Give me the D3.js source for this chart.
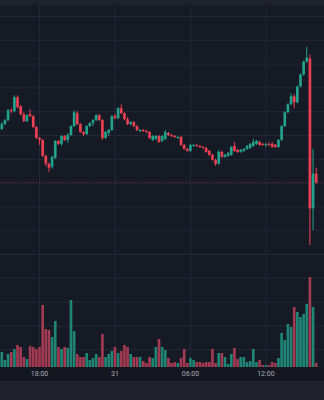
<!DOCTYPE html>
<html>
<head>
<meta charset="utf-8">
<script src="https://cdn.jsdelivr.net/npm/d3@7"></script>
<style>
  html, body { margin: 0; padding: 0; background: #161a25; }
  svg { display: block; }
</style>
</head>
<body>
<svg id="chart"></svg>
<script>
// 15 min candles, 30th 15:00 -> 31st 16:00
const openP = [
  1225, 1227.5, 1229.5, 1234.5, 1234, 1241, 1236.5, 1232.5, 1229, 1232.5,
  1231.5, 1226, 1220.5, 1219.5, 1211.5, 1207.5, 1206, 1210.5, 1219, 1217.5,
  1221.5, 1219.5, 1222, 1226.5, 1233, 1227.5, 1223.5, 1222.5, 1226.5, 1228,
  1229.5, 1232, 1229.5, 1220.5, 1223, 1224.5, 1231.5, 1230.5, 1235.5, 1233,
  1230, 1227.5, 1228.5, 1226.5, 1224, 1224.5, 1224, 1223.5, 1219.5, 1220,
  1221.5, 1219, 1220, 1223, 1222, 1221.5, 1220.5, 1221, 1217, 1215,
  1214, 1216.5, 1217, 1216.5, 1216, 1215.5, 1214, 1212, 1209.5, 1207.5,
  1213.5, 1211, 1211.5, 1212, 1216.5, 1214.5, 1213.5, 1214, 1215, 1215.5,
  1216.5, 1217.5, 1218.5, 1217.5, 1217, 1217.5, 1217.5, 1217, 1216, 1219.5,
  1226.5, 1233.5, 1237.5, 1241.5, 1238.5, 1246.5, 1252.5, 1259, 1260.5, 1185,
  1202.5
];
const highP = [
  1228.5, 1230, 1235, 1235.5, 1242, 1242, 1237, 1233.5, 1232.5, 1235,
  1232, 1226.5, 1221, 1220, 1212, 1208, 1211.5, 1219.5, 1219.5, 1222,
  1222, 1223, 1227, 1234.5, 1234, 1228, 1224, 1227, 1228.5, 1230,
  1232.5, 1232.5, 1230, 1224, 1225, 1232, 1232.5, 1236, 1237.5, 1233.5,
  1231, 1229, 1229, 1227, 1225, 1225, 1224.5, 1224, 1222, 1222,
  1222, 1222, 1224.5, 1223.5, 1222.5, 1222, 1221.5, 1221.5, 1217.5, 1215.5,
  1217.5, 1217.5, 1217.5, 1217, 1216.5, 1216, 1214.5, 1212.5, 1210, 1214.5,
  1214, 1212.5, 1213.5, 1216.5, 1218.5, 1215, 1215, 1215.5, 1217, 1218,
  1220, 1219.5, 1219, 1218, 1218, 1218.5, 1218.5, 1217.5, 1220, 1227,
  1234, 1238, 1243, 1242.5, 1247, 1253, 1259.5, 1266.5, 1262.5, 1215,
  1205.5
];
const lowP = [
  1224.5, 1227, 1229, 1233, 1233.5, 1235.5, 1232, 1228.5, 1228.5, 1231,
  1225.5, 1220, 1217, 1211, 1206.5, 1203.5, 1205, 1210, 1217, 1216.5,
  1219, 1218, 1221.5, 1226, 1227, 1223, 1221.5, 1222, 1226, 1226.5,
  1229, 1229, 1219.5, 1220, 1221.5, 1224, 1230, 1230, 1232.5, 1229.5,
  1227, 1227, 1226, 1224, 1223.5, 1223.5, 1223, 1220, 1219, 1219.5,
  1218, 1218.5, 1219.5, 1221.5, 1221, 1220.5, 1220, 1216.5, 1214.5, 1213.5,
  1213.5, 1216, 1216, 1215.5, 1215, 1213, 1211.5, 1209, 1206.5, 1207,
  1210.5, 1210.5, 1211, 1211.5, 1213.5, 1213, 1213, 1213.5, 1214.5, 1215,
  1216, 1217, 1216.5, 1216.5, 1216, 1216.5, 1215.5, 1215.5, 1215.5, 1219,
  1226, 1233, 1237, 1235.5, 1238, 1246, 1252, 1258.5, 1166.5, 1174,
  1197.5
];
const closeP = [
  1227.5, 1229.5, 1234.5, 1234, 1241, 1236, 1232.5, 1229, 1232, 1231.5,
  1226, 1220.5, 1219.5, 1211.5, 1207.5, 1205.5, 1211, 1219, 1217.5, 1221.5,
  1219.5, 1222, 1226.5, 1233.5, 1227.5, 1223.5, 1222.5, 1226.5, 1228, 1229.5,
  1232, 1229.5, 1220.5, 1223.5, 1224.5, 1231.5, 1230.5, 1235.5, 1233, 1230,
  1227.5, 1228.5, 1226.5, 1224.5, 1224.5, 1224, 1223.5, 1220.5, 1221.5, 1221.5,
  1218.5, 1221.5, 1223.5, 1222, 1221.5, 1221, 1221, 1217, 1215, 1214,
  1217, 1217, 1216.5, 1216, 1215.5, 1213.5, 1212, 1209.5, 1207.5, 1213.5,
  1211, 1212, 1213, 1216, 1214, 1213.5, 1214.5, 1215, 1216.5, 1217.5,
  1218.5, 1219, 1217, 1217, 1217.5, 1217, 1216, 1216, 1219.5, 1226.5,
  1233.5, 1237.5, 1241.5, 1238.5, 1246.5, 1252.5, 1259, 1261, 1185, 1202.5,
  1198
];
const volume = [
  1500, 700, 1300, 1500, 1800, 2200, 2000, 1000, 800, 2100,
  2000, 1800, 2000, 6200, 3800, 3700, 3000, 4600, 2000, 1800,
  2000, 1900, 6700, 3600, 1300, 1000, 1000, 1400, 700, 900,
  1300, 1000, 3300, 1000, 1300, 1600, 2000, 1400, 1600, 2200,
  2000, 1300, 1000, 1000, 1000, 600, 400, 1000, 900, 2000,
  2800, 2000, 1700, 900, 400, 500, 400, 900, 1800, 400,
  900, 700, 500, 500, 400, 500, 500, 1800, 400, 1400,
  1400, 1000, 300, 1300, 1900, 800, 1000, 1000, 500, 600,
  1800, 500, 700, 200, 200, 200, 500, 400, 900, 3400,
  2700, 4300, 4000, 6000, 5500, 5000, 5300, 6300, 9000, 6000,
  400
];
const timeTickIndex = [12, 36, 60, 84];
const timeTickLabels = ["18:00", "31", "06:00", "12:00"];
const priceGrid = [1114, 1126, 1138, 1150, 1162, 1174, 1186, 1198, 1210, 1222, 1234, 1246, 1258, 1270, 1282];

const width = 324, height = 400;
const plotTop = 5, plotBottom = 367, axisBottom = 381;
const upColor = "#22a18b", downColor = "#ec3f51";
const upVol = "#1f8574", downVol = "#a23a52";

const candles = openP.map((o, i) => ({
  i: i, open: o, high: highP[i], low: lowP[i], close: closeP[i], vol: volume[i],
  up: closeP[i] >= o
}));

const svg = d3.select("#chart")
  .attr("width", width)
  .attr("height", height)
  .style("font-family", "Roboto, 'Noto Sans', sans-serif");

// backgrounds
svg.append("rect").attr("width", width).attr("height", height).attr("fill", "#161a25");
svg.append("rect").attr("width", width).attr("height", plotTop).attr("fill", "#1f222c");
svg.append("rect").attr("y", plotBottom).attr("width", width).attr("height", axisBottom - plotBottom).attr("fill", "#141720");
svg.append("rect").attr("y", axisBottom).attr("width", width).attr("height", height - axisBottom).attr("fill", "#1f222a");

const x = d3.scaleBand()
  .domain(d3.range(candles.length))
  .range([0, 318])
  .padding(0.15);

const y = d3.scaleLinear()
  .domain([1114, 1282])
  .range([349.2, 16]);

const yVol = d3.scaleLinear()
  .domain([0, d3.max(volume)])
  .range([plotBottom, plotBottom - 90]);

const cx = i => x(i) + x.bandwidth() / 2;

// grid
const plot = svg.append("g");
plot.append("g")
  .call(d3.axisLeft(y).tickValues(priceGrid).tickSize(-width).tickFormat(""))
  .call(g => g.select(".domain").remove())
  .call(g => g.selectAll("line").attr("stroke", "#242837").attr("stroke-width", 1));

plot.append("g")
  .attr("transform", `translate(0,${plotBottom})`)
  .call(d3.axisBottom(x).tickValues(timeTickIndex).tickSize(-(plotBottom - plotTop)).tickFormat(""))
  .call(g => g.select(".domain").remove())
  .call(g => g.selectAll("line").attr("stroke", "#242837").attr("stroke-width", 1));

// volume
svg.append("g")
  .selectAll("rect").data(candles).enter().append("rect")
  .attr("x", d => x(d.i))
  .attr("y", d => yVol(d.vol))
  .attr("width", x.bandwidth())
  .attr("height", d => plotBottom - yVol(d.vol))
  .attr("fill", d => d.up ? upVol : downVol);

// last price line
svg.append("line")
  .attr("x1", 0).attr("x2", width)
  .attr("y1", y(closeP[closeP.length - 1]))
  .attr("y2", y(closeP[closeP.length - 1]))
  .attr("stroke", "#a8384a")
  .attr("stroke-opacity", 0.65)
  .attr("stroke-width", 1)
  .attr("stroke-dasharray", "1,2");

// candles
const c = svg.append("g").selectAll("g").data(candles).enter().append("g");
c.append("line")
  .attr("x1", d => cx(d.i)).attr("x2", d => cx(d.i))
  .attr("y1", d => y(d.high)).attr("y2", d => y(d.low))
  .attr("stroke", d => d.up ? upColor : downColor)
  .attr("stroke-width", 1);
c.append("rect")
  .attr("x", d => x(d.i))
  .attr("y", d => y(Math.max(d.open, d.close)))
  .attr("width", x.bandwidth())
  .attr("height", d => Math.max(1, Math.abs(y(d.open) - y(d.close))))
  .attr("fill", d => d.up ? upColor : downColor);

// time axis
svg.append("g")
  .attr("transform", `translate(0,${plotBottom})`)
  .call(d3.axisBottom(x).tickValues(timeTickIndex).tickSize(0).tickPadding(4)
    .tickFormat((d, i) => timeTickLabels[i]))
  .call(g => g.select(".domain").remove())
  .call(g => g.selectAll("text")
    .attr("fill", "#a7aab3")
    .style("font-size", "7px")
    .style("font-family", "Roboto, 'Noto Sans', sans-serif"));
</script>
</body>
</html>
